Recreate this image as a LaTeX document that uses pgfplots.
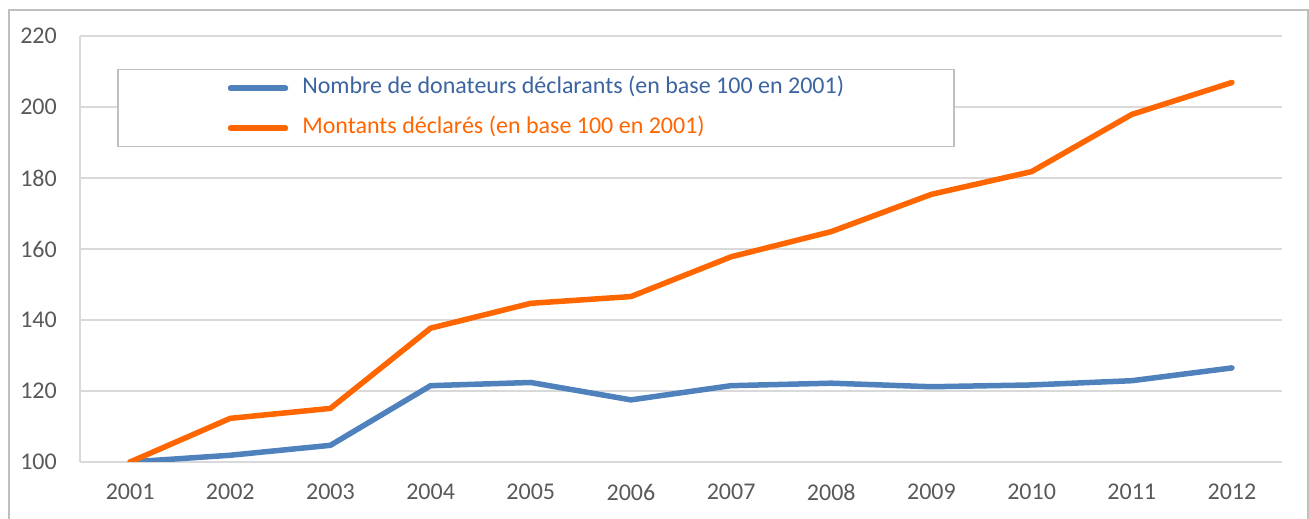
\documentclass[border=0pt]{standalone}
\usepackage{fontspec}
\setmainfont{Carlito}
\usepackage{pgfplots}
\pgfplotsset{compat=1.18}
\definecolor{serblue}{RGB}{79,129,189}
\definecolor{serorange}{RGB}{255,102,0}
\definecolor{legblue}{RGB}{59,100,160}
\definecolor{gridgray}{RGB}{217,217,217}
\definecolor{framegray}{RGB}{191,191,191}
\definecolor{ticktext}{RGB}{89,89,89}
\begin{document}
\begin{tikzpicture}
\useasboundingbox (0bp,0bp) rectangle (1309bp,519bp);
\draw[framegray, line width=1.5bp] (9bp,-20bp) -- (9bp,509bp) -- (1308bp,509bp) -- (1308bp,-20bp);
\begin{axis}[
  at={(80bp,57bp)}, anchor=south west,
  scale only axis, width=1202bp, height=426bp,
  xmin=0.5, xmax=12.5, ymin=100, ymax=220,
  xtick={1,...,12},
  xticklabels={2001,2002,2003,2004,2005,2006,2007,2008,2009,2010,2011,2012},
  ytick={100,120,...,220},
  ymajorgrids, grid style={gridgray, line width=1.5bp},
  axis x line*=bottom, axis y line*=left,
  axis line style={gridgray, line width=1.5bp, -},
  major tick length=0pt,
  /pgf/number format/assume math mode=true,
  tick label style={font=\fontsize{24bp}{28bp}\selectfont, text=ticktext, inner sep=0pt},
  yticklabel style={xshift=-23bp},
  xticklabel style={yshift=-22bp},
  legend style={at={(37bp,393bp)}, anchor=north west, draw=framegray, line width=1.5bp, fill=white,
    inner xsep=110bp, inner ysep=8bp, row sep=19bp, column sep=14bp,
    font=\fontsize{24bp}{28bp}\selectfont,
    nodes={inner sep=0pt, text height=16bp, text depth=5bp, line width=0.4pt}},
  legend cell align=left,
  legend image code/.code={\draw[#1] (0bp,0bp) -- (55bp,0bp);},
  every axis plot/.append style={line width=5.5bp, line cap=round, line join=round},
]
\addplot[serblue] coordinates {
(1,100) (2,101.9) (3,104.7) (4,121.5) (5,122.4) (6,117.5) (7,121.5) (8,122.2) (9,121.2) (10,121.7) (11,122.9) (12,126.5)};
\addlegendentry[text=legblue]{Nombre de donateurs déclarants (en base 100 en 2001)}
\addplot[serorange] coordinates {
(1,100) (2,112.3) (3,115.1) (4,137.7) (5,144.7) (6,146.6) (7,157.8) (8,164.9) (9,175.4) (10,181.8) (11,197.9) (12,206.9)};
\addlegendentry[text=serorange]{Montants déclarés (en base 100 en 2001)}
\end{axis}
\end{tikzpicture}
\end{document}
